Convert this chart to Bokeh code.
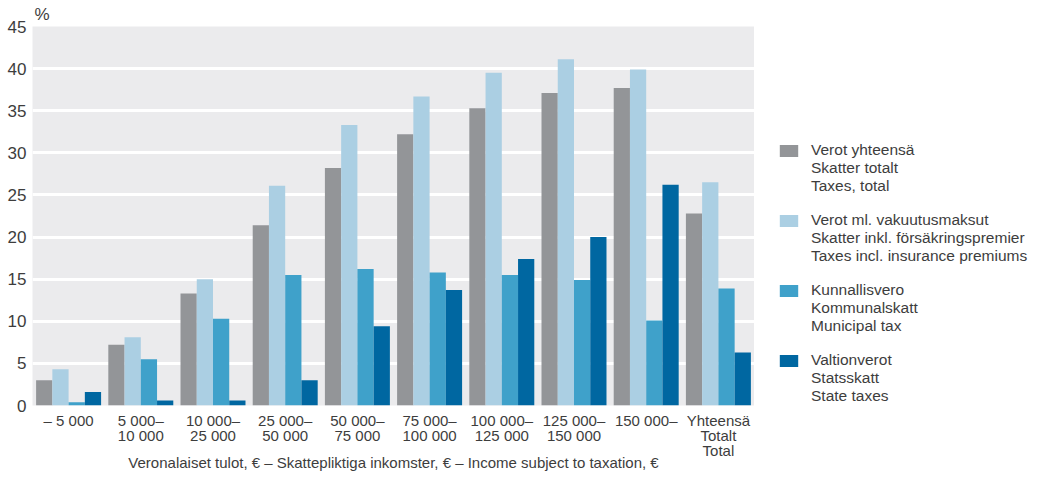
from bokeh.plotting import figure
from bokeh.layouts import row
from bokeh.models import FactorRange, Legend, LegendItem, Range1d, FixedTicker, ColumnDataSource
from bokeh.transform import dodge
from bokeh.embed import file_html
from bokeh.resources import INLINE

groups = ["– 5 000", "5 000–\n10 000", "10 000–\n25 000", "25 000–\n50 000",
          "50 000–\n75 000", "75 000–\n100 000", "100 000–\n125 000",
          "125 000–\n150 000", "150 000–", "Yhteensä\nTotalt\nTotal"]
taxes_total = [3.0, 7.2, 13.3, 21.4, 28.2, 32.2, 35.3, 37.1, 37.7, 22.8]
taxes_incl_ins = [4.3, 8.1, 15.0, 26.1, 33.3, 36.7, 39.5, 41.1, 39.9, 26.5]
municipal = [0.4, 5.5, 10.3, 15.5, 16.2, 15.8, 15.5, 14.9, 10.1, 13.9]
state = [1.6, 0.6, 0.6, 3.0, 9.4, 13.7, 17.4, 20.0, 26.2, 6.3]
series_labels = [["Verot yhteensä", "Skatter totalt", "Taxes, total"],
                 ["Verot ml. vakuutusmaksut", "Skatter inkl. försäkringspremier", "Taxes incl. insurance premiums"],
                 ["Kunnallisvero", "Kommunalskatt", "Municipal tax"],
                 ["Valtionverot", "Statsskatt", "State taxes"]]
y_ticks = [0, 5, 10, 15, 20, 25, 30, 35, 40, 45]
x_title = "Veronalaiset tulot, € – Skattepliktiga inkomster, € – Income subject to taxation, €"

colors = ["#939598", "#ABCFE3", "#3FA1CA", "#0067A1"]
keys = ["total", "incl", "mun", "state"]
source = ColumnDataSource(dict(g=groups, total=taxes_total, incl=taxes_incl_ins, mun=municipal, state=state))

FONT = "Liberation Sans"
TXT = "#3d3d3d"

p = figure(x_range=FactorRange(*groups, range_padding=0), y_range=Range1d(0, 45),
           width=754, height=474, output_backend="svg", toolbar_location=None,
           min_border_left=32, min_border_top=0, min_border_right=0, min_border_bottom=0,
           title="%")
p.background_fill_color = "#EBEBED"
p.border_fill_color = "white"
p.outline_line_color = None
p.title.text_font = FONT
p.title.text_font_style = "normal"
p.title.text_font_size = "17px"
p.title.text_color = TXT
p.title.align = "left"
p.title.offset = 2
p.title.standoff = 5

offsets = [-0.3375, -0.1125, 0.1125, 0.3375]
for k, c, off in zip(keys, colors, offsets):
    p.vbar(x=dodge("g", off, range=p.x_range), top=k, width=0.225, source=source,
           fill_color=c, line_color=None)

p.xgrid.grid_line_color = None
p.ygrid.grid_line_color = "white"
p.ygrid.grid_line_width = 3
p.yaxis.ticker = FixedTicker(ticks=y_ticks)
for ax in (p.xaxis, p.yaxis):
    ax.axis_line_color = None
    ax.major_tick_line_color = None
    ax.minor_tick_line_color = None
    ax.major_tick_out = 0
    ax.major_tick_in = 0
    ax.minor_tick_out = 0
    ax.major_label_text_font = FONT
    ax.major_label_text_color = TXT
p.yaxis.major_label_text_font_size = "17px"
p.yaxis.major_label_standoff = 6
p.xaxis.major_label_text_font_size = "15px"
p.xaxis.major_label_standoff = 6
p.xaxis.major_label_text_line_height = 0.9
p.xaxis.axis_label = x_title
p.xaxis.axis_label_text_font = FONT
p.xaxis.axis_label_text_font_style = "normal"
p.xaxis.axis_label_text_font_size = "15px"
p.xaxis.axis_label_text_color = TXT
p.xaxis.axis_label_standoff = -8

# legend panel: a separate figure; its zero-width bars draw nothing and only feed the legend swatches
leg = figure(x_range=FactorRange(*groups), y_range=Range1d(-200, -100),
             width=281, height=474, output_backend="svg", toolbar_location=None,
             min_border=0, outline_line_color=None)
leg.axis.visible = False
leg.grid.visible = False
leg_r = [leg.vbar(x="g", top=k, width=0, source=source, fill_color=c, line_color=None)
         for k, c in zip(keys, colors)]
blank = leg.vbar(x="g", top="total", width=0, source=source, fill_alpha=0, line_alpha=0)

items = []
for i, (lines, r) in enumerate(zip(series_labels, leg_r)):
    items.append(LegendItem(label=lines[0], renderers=[r]))
    items.append(LegendItem(label=lines[1], renderers=[blank]))
    items.append(LegendItem(label=lines[2], renderers=[blank]))
    if i < len(series_labels) - 1:
        items.append(LegendItem(label=" ", renderers=[blank]))

legend = Legend(items=items, location=(23, 0), orientation="vertical")
legend.glyph_width = 23
legend.glyph_height = 15
legend.label_height = 16
legend.label_standoff = 11
legend.label_text_font = FONT
legend.label_text_font_size = "15.5px"
legend.label_text_line_height = 1.0
legend.label_text_color = TXT
legend.spacing = 0
legend.padding = 0
legend.margin = 0
legend.border_line_color = None
legend.background_fill_alpha = 0
leg.add_layout(legend, "center")

open("out.html", "w").write(file_html(row(p, leg), INLINE))
